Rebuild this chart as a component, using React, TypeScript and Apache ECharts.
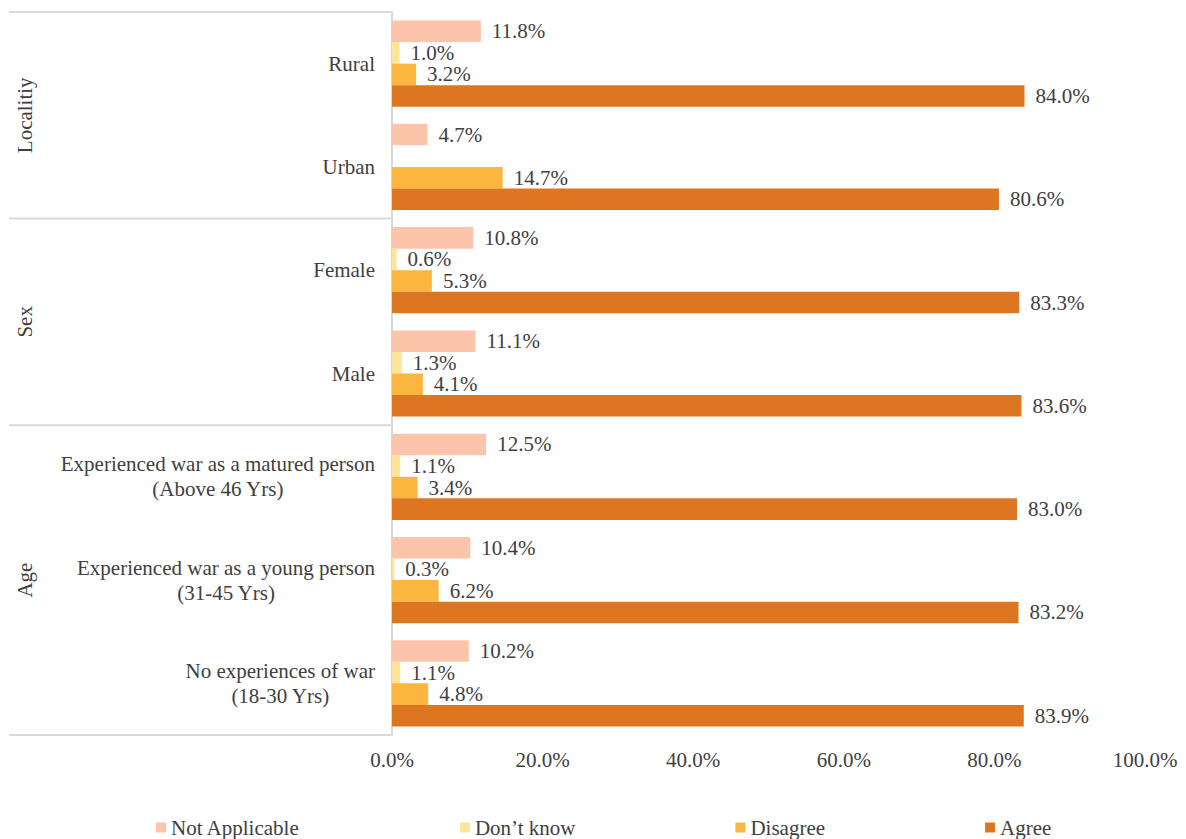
import React, { useEffect, useRef } from "react";
import * as echarts from "echarts";

const categories = [
  "Rural",
  "Urban",
  "Female",
  "Male",
  "Experienced war as a matured person\n(Above 46 Yrs)",
  "Experienced war as a young person\n(31-45 Yrs)",
  "No experiences of war\n(18-30 Yrs)",
];
const groups = [
  { name: "Localitiy", from: 0, to: 2 },
  { name: "Sex", from: 2, to: 4 },
  { name: "Age", from: 4, to: 7 },
];
const seriesNames = ["Not Applicable", "Don\u2019t know", "Disagree", "Agree"];
const notApplicable = [11.8, 4.7, 10.8, 11.1, 12.5, 10.4, 10.2];
const dontKnow: (number | string)[] = [1.0, "-", 0.6, 1.3, 1.1, 0.3, 1.1];
const disagree = [3.2, 14.7, 5.3, 4.1, 3.4, 6.2, 4.8];
const agree = [84.0, 80.6, 83.3, 83.6, 83.0, 83.2, 83.9];
const colors = ["#FBC4AB", "#FFE49A", "#FBB640", "#DD7621"];

const FONT = "'Liberation Serif', 'Times New Roman', serif";
const TXT = "#404040";
const FS = 21;

export default function App() {
  const ref = useRef<HTMLDivElement>(null);
  useEffect(() => {
    if (!ref.current) return;
    const chart = echarts.init(ref.current, undefined, { renderer: "svg" });
    const H = 839;
    const gLeft = 392, gTop = 12, gRight = 41, gBottom = 104;
    const gH = H - gTop - gBottom;
    const catH = gH / categories.length;
    const lineColor = "#D9D9D9";

    const graphics: any[] = [];
    const bounds = [0, 2, 4, 7];
    bounds.forEach((b) => {
      const y = gTop + b * catH;
      graphics.push({
        type: "line",
        shape: { x1: 9, y1: y, x2: gLeft, y2: y },
        style: { stroke: lineColor, lineWidth: 2 },
      });
    });
    groups.forEach((g) => {
      const yc = gTop + ((g.from + g.to) / 2) * catH;
      graphics.push({
        type: "text",
        x: 25,
        y: yc,
        rotation: Math.PI / 2,
        style: {
          text: g.name,
          font: `${FS}px ${FONT}`,
          fill: TXT,
          textAlign: "center",
          textVerticalAlign: "middle",
        },
      });
    });

    const label = {
      show: true,
      position: "right",
      distance: 11,
      fontFamily: FONT,
      fontSize: FS,
      color: TXT,
      formatter: (p: any) => Number(p.value).toFixed(1) + "%",
    };
    const dataSets = [notApplicable, dontKnow, disagree, agree];

    chart.setOption({
      animation: false,
      backgroundColor: "#fff",
      grid: { left: gLeft, right: gRight, top: gTop, bottom: gBottom, containLabel: false },
      legend: {
        data: seriesNames,
        left: 156,
        top: 817,
        padding: 0,
        itemWidth: 10,
        itemHeight: 10,
        itemGap: 160,
        icon: "rect",
        textStyle: { fontFamily: FONT, fontSize: FS, color: TXT, padding: 0 },
      },
      xAxis: {
        type: "value",
        min: 0,
        max: 100,
        interval: 20,
        splitLine: { show: false },
        axisLine: { show: false },
        axisTick: { show: false },
        axisLabel: {
          margin: 14,
          fontFamily: FONT,
          fontSize: FS,
          color: TXT,
          formatter: (v: number) => v.toFixed(1) + "%",
        },
      },
      yAxis: {
        type: "category",
        data: categories,
        inverse: true,
        axisLine: { show: true, lineStyle: { color: lineColor, width: 2 } },
        axisTick: { show: false },
        axisLabel: {
          margin: 17,
          fontFamily: FONT,
          fontSize: FS,
          color: TXT,
          lineHeight: 25,
          formatter: (v: string) =>
            v
              .split("\n")
              .map((s) => `{c|${s}}`)
              .join("\n"),
          rich: {
            c: { align: "center", fontFamily: FONT, fontSize: FS, color: TXT, lineHeight: 25 },
          },
        },
      },
      series: seriesNames.map((name, i) => ({
        name,
        type: "bar",
        data: dataSets[i],
        barGap: "0%",
        barCategoryGap: "16.5%",
        itemStyle: { color: colors[i] },
        label,
      })),
      graphic: graphics,
    });
    return () => chart.dispose();
  }, []);
  return (
    <div
      ref={ref}
      style={{ position: "absolute", left: 0, top: 0, width: 1186, height: 839 }}
    />
  );
}
